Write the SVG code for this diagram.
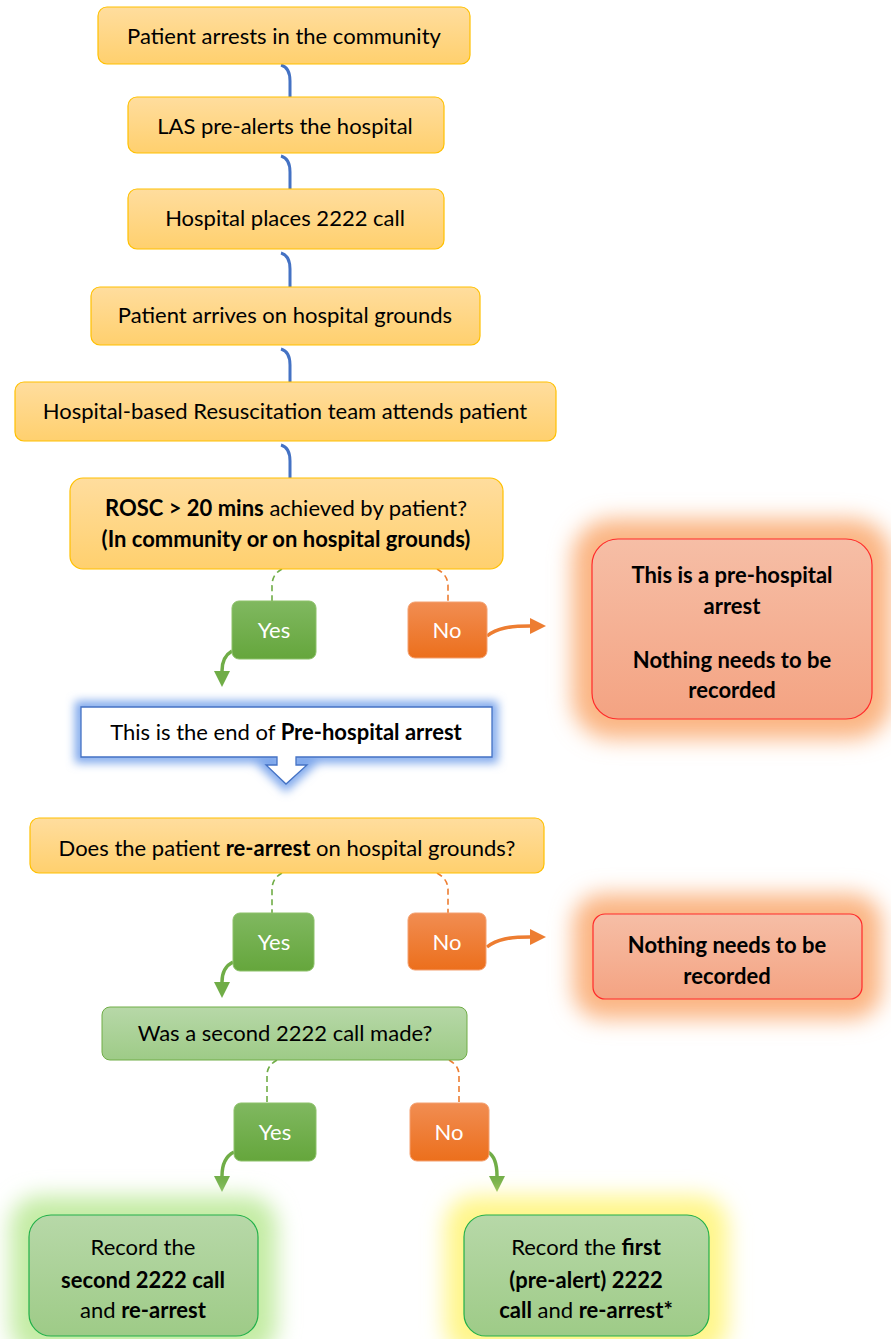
<svg xmlns="http://www.w3.org/2000/svg" width="891" height="1339" viewBox="0 0 891 1339">
<defs>
<linearGradient id="gY" x1="0" y1="0" x2="0" y2="1"><stop offset="0" stop-color="#ffdd9e"/><stop offset="1" stop-color="#ffd06e"/></linearGradient>
<linearGradient id="gGreen" x1="0" y1="0" x2="0" y2="1"><stop offset="0" stop-color="#80b860"/><stop offset="1" stop-color="#65a63c"/></linearGradient>
<linearGradient id="gOrange" x1="0" y1="0" x2="0" y2="1"><stop offset="0" stop-color="#f18d52"/><stop offset="1" stop-color="#ec6f1c"/></linearGradient>
<linearGradient id="gRed" x1="0" y1="0" x2="0" y2="1"><stop offset="0" stop-color="#f6bea6"/><stop offset="1" stop-color="#f4a382"/></linearGradient>
<linearGradient id="gLG" x1="0" y1="0" x2="0" y2="1"><stop offset="0" stop-color="#b7d8a8"/><stop offset="1" stop-color="#9ecb87"/></linearGradient>
<filter id="blur" x="-40%" y="-40%" width="180%" height="180%"><feGaussianBlur stdDeviation="11"/></filter>
<filter id="blurS" x="-20%" y="-40%" width="140%" height="180%"><feGaussianBlur stdDeviation="5"/></filter>
<marker id="aGreen" markerUnits="userSpaceOnUse" markerWidth="16" markerHeight="16" refX="0" refY="8" orient="auto" viewBox="0 0 16 16"><path d="M0,0 L16,8 L0,16 z" fill="#70ad47"/></marker>
<marker id="aOrange" markerUnits="userSpaceOnUse" markerWidth="16" markerHeight="16" refX="0" refY="8" orient="auto" viewBox="0 0 16 16"><path d="M0,0 L16,8 L0,16 z" fill="#ed7d31"/></marker>
</defs>
<style>
text{font-family:"Lato","Liberation Sans",sans-serif;font-size:22px;fill:#000;text-anchor:middle}
.b{font-weight:bold}
.w{fill:#fff}
.yb{fill:url(#gY);stroke:#ffc000;stroke-width:1.2}
.yes{fill:url(#gGreen);stroke:#8cc168;stroke-width:1}
.no{fill:url(#gOrange);stroke:#f4a070;stroke-width:1}
.red{fill:url(#gRed);stroke:#ff2a2a;stroke-width:1.2}
.lg{fill:url(#gLG);stroke:#70ad47;stroke-width:1}
.rec{fill:url(#gLG);stroke:#22b04a;stroke-width:1.2}
.blue{fill:none;stroke:#4472c4;stroke-width:3}
.dg{fill:none;stroke:#70ad47;stroke-width:1.6;stroke-dasharray:6 4}
.do{fill:none;stroke:#ed7d31;stroke-width:1.6;stroke-dasharray:6 4}
.ag{fill:none;stroke:#70ad47;stroke-width:3.5;marker-end:url(#aGreen)}
.ao{fill:none;stroke:#ed7d31;stroke-width:3.5;marker-end:url(#aOrange)}
</style>
<rect width="891" height="1339" fill="#fff"/>

<g id="connectors">
<path class="blue" d="M281,65 C288,67 290,73 290,81 L290,97"/>
<path class="blue" d="M281,156 C288,158 290,164 290,172 L290,189"/>
<path class="blue" d="M281,253 C288,255 290,261 290,269 L290,287"/>
<path class="blue" d="M281,349 C288,351 290,357 290,365 L290,382"/>
<path class="blue" d="M281,445 C288,447 290,453 290,461 L290,478"/>
<path class="dg" d="M282,569 C275,573 272,578 272,586 L272,601"/>
<path class="do" d="M437,569 C444,573 448,578 448,586 L448,602"/>
<path class="ag" d="M232,651 C225,655 222,661 222,671"/>
<path class="ao" d="M487,636 C497,628 510,626 530,626"/>
<path class="dg" d="M282,873 C275,877 272,882 272,890 L272,913"/>
<path class="do" d="M437,873 C444,877 448,882 448,890 L448,913"/>
<path class="ag" d="M233,962 C225,966 222,972 222,982"/>
<path class="ao" d="M487,947 C497,939 510,937 530,937"/>
<path class="dg" d="M277,1060 C270,1064 267,1069 267,1075 L267,1103"/>
<path class="do" d="M449,1060 C456,1064 459,1069 459,1075 L459,1103"/>
<path class="ag" d="M234,1152 C226,1156 222,1164 222,1176"/>
<path class="ag" d="M488,1152 C495,1156 497,1164 497,1176"/>
</g>

<g id="n1"><rect class="yb" x="98" y="7" width="372" height="57" rx="9"/><text x="284" y="44">Patient arrests in the community</text></g>
<g id="n2"><rect class="yb" x="128" y="97" width="316" height="56" rx="9"/><text x="285" y="134">LAS pre-alerts the hospital</text></g>
<g id="n3"><rect class="yb" x="128" y="189" width="316" height="60" rx="9"/><text x="285" y="226">Hospital places 2222 call</text></g>
<g id="n4"><rect class="yb" x="91" y="287" width="389" height="58" rx="9"/><text x="285" y="323">Patient arrives on hospital grounds</text></g>
<g id="n5"><rect class="yb" x="15" y="382" width="541" height="59" rx="9"/><text x="285" y="419">Hospital-based Resuscitation team attends patient</text></g>
<g id="n6"><rect class="yb" x="70" y="478" width="433" height="91" rx="13"/>
<text x="286" y="516"><tspan class="b">ROSC &gt; 20 mins</tspan> achieved by patient?</text>
<text x="286" y="547" class="b">(In community or on hospital grounds)</text></g>

<g id="yes1"><rect class="yes" x="232" y="601" width="84" height="58" rx="7"/><text class="w" x="274" y="638">Yes</text></g>
<g id="no1"><rect class="no" x="408" y="602" width="79" height="56" rx="7"/><text class="w" x="447" y="638">No</text></g>

<g id="red1">
<rect x="572" y="519" width="320" height="220" rx="40" fill="#fbb583" filter="url(#blur)"/>
<rect class="red" x="592" y="539" width="280" height="180" rx="26"/>
<text class="b" x="732" y="583">This is a pre-hospital</text>
<text class="b" x="732" y="614">arrest</text>
<text class="b" x="732" y="668">Nothing needs to be</text>
<text class="b" x="732" y="698">recorded</text></g>

<g id="end1">
<path d="M81,707 H492 V757 H296 V765 H307 L286,784 L266,765 H277 V757 H81 Z" fill="none" stroke="#7fa8ec" stroke-width="12" filter="url(#blurS)"/>
<path d="M81,707 H492 V757 H296 V765 H307 L286,784 L266,765 H277 V757 H81 Z" fill="#fff" stroke="#4472c4" stroke-width="1.3"/>
<text x="286" y="740">This is the end of <tspan class="b">Pre-hospital arrest</tspan></text></g>

<g id="n7"><rect class="yb" x="30" y="818" width="514" height="55" rx="9"/><text x="287" y="856">Does the patient <tspan class="b">re-arrest</tspan> on hospital grounds?</text></g>

<g id="yes2"><rect class="yes" x="233" y="913" width="81" height="58" rx="7"/><text class="w" x="274" y="950">Yes</text></g>
<g id="no2"><rect class="no" x="408" y="913" width="78" height="57" rx="7"/><text class="w" x="447" y="950">No</text></g>

<g id="red2">
<rect x="573" y="894" width="309" height="125" rx="30" fill="#fbb583" filter="url(#blur)"/>
<rect class="red" x="593" y="914" width="269" height="85" rx="12"/>
<text class="b" x="727" y="953">Nothing needs to be</text>
<text class="b" x="727" y="984">recorded</text></g>

<g id="n8"><rect class="lg" x="102" y="1007" width="365" height="53" rx="8"/><text x="285" y="1041">Was a second 2222 call made?</text></g>

<g id="yes3"><rect class="yes" x="234" y="1103" width="82" height="58" rx="7"/><text class="w" x="275" y="1140">Yes</text></g>
<g id="no3"><rect class="no" x="410" y="1103" width="79" height="58" rx="7"/><text class="w" x="449" y="1140">No</text></g>

<g id="rec1">
<rect x="10" y="1196" width="267" height="160" rx="30" fill="#c4eca4" filter="url(#blur)"/>
<rect class="rec" x="29" y="1215" width="229" height="121" rx="22"/>
<text x="143" y="1255">Record the</text>
<text class="b" x="143" y="1288">second 2222 call</text>
<text x="143" y="1318">and <tspan class="b">re-arrest</tspan></text></g>

<g id="rec2">
<rect x="445" y="1196" width="283" height="160" rx="30" fill="#fff68a" filter="url(#blur)"/>
<rect class="rec" x="464" y="1215" width="245" height="121" rx="22"/>
<text x="586" y="1255">Record the <tspan class="b">first</tspan></text>
<text class="b" x="586" y="1288">(pre-alert) 2222</text>
<text x="586" y="1318"><tspan class="b">call</tspan> and <tspan class="b">re-arrest*</tspan></text></g>
</svg>
